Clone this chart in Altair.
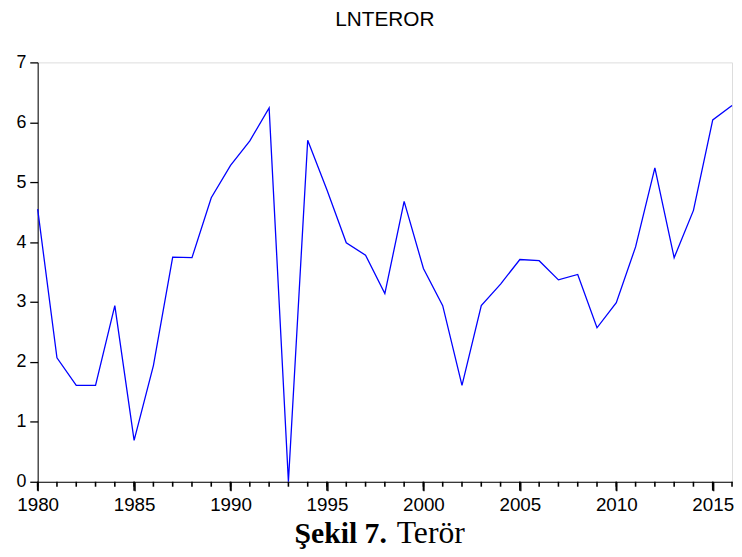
import altair as alt
import pandas as pd

# ---- data ----
years = list(range(1980, 2017))
lnteror = [4.55, 2.07, 1.61, 1.61, 2.94, 0.69, 1.94, 3.75, 3.74, 4.74,
           5.28, 5.69, 6.24, 0.00, 5.70, 4.87, 3.99, 3.78, 3.14, 4.68,
           3.56, 2.94, 1.61, 2.94, 3.30, 3.71, 3.69, 3.37, 3.46, 2.57,
           2.99, 3.92, 5.24, 3.74, 4.53, 6.04, 6.28]
major_years = [1980, 1985, 1990, 1995, 2000, 2005, 2010, 2015]
y_ticks = [0, 1, 2, 3, 4, 5, 6, 7]
chart_title = "LNTEROR"
caption_bold = "Şekil 7."
caption_regular = "Terör"

df = pd.DataFrame({"year": years, "value": lnteror})
minor_df = pd.DataFrame({"year": years})
major_df = pd.DataFrame({"year": major_years})

W, H = 702, 424
FONT = "Liberation Sans"
SERIF = "Liberation Serif"

xscale = alt.Scale(domain=[1980, 2016], nice=False, zero=False)
yscale = alt.Scale(domain=[0, 7], nice=False, zero=True)

common_axis = dict(labelFont=FONT, labelColor="black", ticks=True,
                   tickColor="black", domainColor="black", grid=False,
                   title=None, tickWidth=1.3, domainWidth=1, labelFlush=False)

line = alt.Chart(df).mark_line(color="#0000FF", strokeWidth=1.3).encode(
    x=alt.X("year:Q", scale=xscale,
            axis=alt.Axis(values=major_years, format="d", tickSize=9,
                          labelPadding=5, labelFontSize=19, orient="bottom",
                          **common_axis)),
    y=alt.Y("value:Q", scale=yscale,
            axis=alt.Axis(values=y_ticks, format="d", tickSize=8,
                          labelPadding=4, labelFontSize=18, orient="left",
                          **common_axis)),
)

# yearly minor ticks and 5-yearly major ticks, hanging below the x axis
MINOR_LEN, MAJOR_LEN = 5, 9
minor = alt.Chart(minor_df).mark_tick(
    color="black", thickness=1.6, size=MINOR_LEN, orient="vertical",
    opacity=1, yOffset=MINOR_LEN / 2
).encode(
    x=alt.X("year:Q", scale=xscale),
    y=alt.value(H),
)
major = alt.Chart(major_df).mark_tick(
    color="black", thickness=1.6, size=MAJOR_LEN, orient="vertical",
    opacity=1, yOffset=MAJOR_LEN / 2
).encode(
    x=alt.X("year:Q", scale=xscale),
    y=alt.value(H),
)

title_layer = alt.Chart(pd.DataFrame({"t": [chart_title]})).mark_text(
    font=FONT, fontSize=21, color="black", align="center", baseline="alphabetic"
).encode(text="t:N", x=alt.value(W / 2), y=alt.value(-37))

cap_b = alt.Chart(pd.DataFrame({"t": [caption_bold]})).mark_text(
    font=SERIF, fontSize=30, fontWeight="bold", color="black",
    align="right", baseline="alphabetic"
).encode(text="t:N", x=alt.value(353), y=alt.value(486))

cap_r = alt.Chart(pd.DataFrame({"t": [caption_regular]})).mark_text(
    font=SERIF, fontSize=32, fontWeight="normal", color="black",
    align="left", baseline="alphabetic"
).encode(text="t:N", x=alt.value(363), y=alt.value(486))

chart = alt.layer(line, minor, major, title_layer, cap_b, cap_r).properties(
    width=W, height=H,
    autosize=alt.AutoSizeParams(type="none"),
    padding={"left": 30, "top": 52, "right": 2, "bottom": 67},
).configure_view(
    stroke="black", strokeWidth=1
).configure(background="white")

chart.save("out.html", embed_options={"renderer": "svg", "actions": False})
